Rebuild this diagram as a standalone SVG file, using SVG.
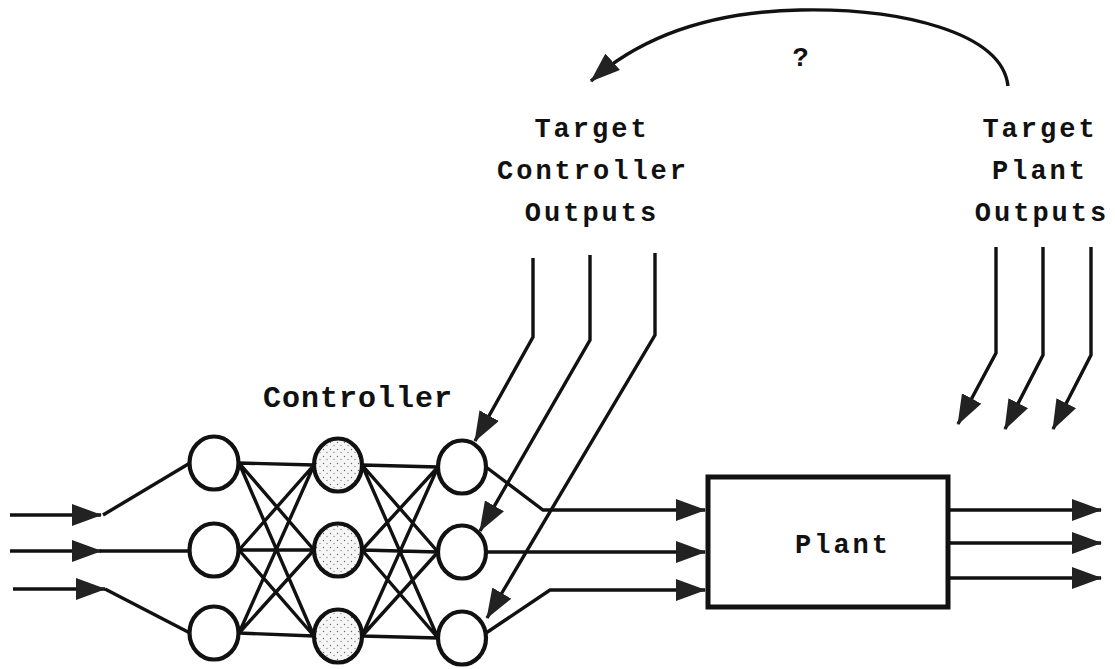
<svg xmlns="http://www.w3.org/2000/svg" width="1115" height="669" viewBox="0 0 1115 669">
  <style>
    .wire { fill: none; stroke: #111; stroke-width: 3.4; stroke-linejoin: miter; }
    .arrow { marker-end: url(#head); }
    .neuron { fill: #fff; stroke: #111; stroke-width: 4.2; }
    .hidden { fill: url(#stipple); }
    .label { font-family: "Liberation Mono", "Courier New", monospace; font-size: 27px; font-weight: bold; letter-spacing: 3px; fill: #111; text-anchor: middle; }
    .title { font-size: 30px; letter-spacing: 1px; }
    .box { fill: #fff; stroke: #111; stroke-width: 5; }
  </style>
  <defs>
    <marker id="head" markerUnits="userSpaceOnUse" viewBox="0 0 30 22" markerWidth="30" markerHeight="22" refX="29" refY="11" orient="auto">
      <path d="M0,0 L30,11 L0,22 Z" fill="#222"/>
    </marker>
    <pattern id="stipple" patternUnits="userSpaceOnUse" width="7" height="7">
      <rect width="7" height="7" fill="#f6f6f6"/>
      <circle cx="1.5" cy="1.5" r="0.7" fill="#666"/>
      <circle cx="5" cy="4.5" r="0.7" fill="#888"/>
    </pattern>
  </defs>

  <!-- connectors -->
  <g id="connectors">
    <!-- network inputs -->
    <path class="wire arrow" d="M10,515 H101"/>
    <path class="wire arrow" d="M10,551 H101"/>
    <path class="wire arrow" d="M13,589 H105"/>
    <path class="wire" d="M103,515 L190,463"/>
    <path class="wire" d="M100,551 H190"/>
    <path class="wire" d="M105,589 L190,633"/>

    <!-- input layer to hidden layer -->
    <path class="wire" d="M239,463 L314,465 M239,463 L314,550 M239,463 L314,636
                          M239,550 L314,465 M239,550 L314,550 M239,550 L314,636
                          M239,633 L314,465 M239,633 L314,550 M239,633 L314,636"/>
    <!-- hidden layer to output layer -->
    <path class="wire" d="M362,465 L438,467 M362,465 L438,552 M362,465 L438,638
                          M362,550 L438,467 M362,550 L438,552 M362,550 L438,638
                          M362,636 L438,467 M362,636 L438,552 M362,636 L438,638"/>

    <!-- controller outputs into the plant -->
    <path class="wire arrow" d="M486,467 L543,510 H705"/>
    <path class="wire arrow" d="M486,552 H705"/>
    <path class="wire arrow" d="M486,633 L550,590 H705"/>

    <!-- target controller outputs -->
    <path class="wire arrow" d="M533,258 V337 L475,441"/>
    <path class="wire arrow" d="M590,255 V340 L480,531"/>
    <path class="wire arrow" d="M655,253 V335 L487,618"/>

    <!-- plant outputs -->
    <path class="wire arrow" d="M948,510 H1101"/>
    <path class="wire arrow" d="M948,543 H1101"/>
    <path class="wire arrow" d="M948,578 H1101"/>

    <!-- target plant outputs -->
    <path class="wire arrow" d="M996,247 V353 L958,424"/>
    <path class="wire arrow" d="M1043,247 V355 L1005,429"/>
    <path class="wire arrow" d="M1091,247 V355 L1053,429"/>

    <!-- mapping from plant targets back to controller targets -->
    <path class="wire arrow" d="M1008,86 C1002,32 900,8 800,10 C700,12 635,42 591,81"/>
  </g>

  <!-- input layer -->
  <g id="input-layer">
    <ellipse class="neuron" cx="214" cy="463" rx="24.5" ry="26.5"/>
    <ellipse class="neuron" cx="214" cy="550" rx="24.5" ry="26.5"/>
    <ellipse class="neuron" cx="214" cy="633" rx="24.5" ry="26.5"/>
  </g>

  <!-- hidden layer -->
  <g id="hidden-layer">
    <ellipse class="neuron hidden" cx="338" cy="465" rx="24" ry="26.5"/>
    <ellipse class="neuron hidden" cx="338" cy="550" rx="24" ry="26.5"/>
    <ellipse class="neuron hidden" cx="338" cy="636" rx="24" ry="26.5"/>
  </g>

  <!-- output layer -->
  <g id="output-layer">
    <ellipse class="neuron" cx="462" cy="467" rx="24" ry="26.5"/>
    <ellipse class="neuron" cx="462" cy="552" rx="24" ry="26.5"/>
    <ellipse class="neuron" cx="462" cy="638" rx="24" ry="26.5"/>
  </g>

  <g id="controller-label">
    <text class="label title" x="358" y="407">Controller</text>
  </g>

  <g id="plant">
    <rect class="box" x="708" y="477" width="240" height="130"/>
    <text class="label" x="843" y="553">Plant</text>
  </g>

  <g id="target-controller-outputs">
    <text class="label" x="592" y="137">Target</text>
    <text class="label" x="593" y="179">Controller</text>
    <text class="label" x="592" y="221">Outputs</text>
  </g>

  <g id="target-plant-outputs">
    <text class="label" x="1040" y="137">Target</text>
    <text class="label" x="1040" y="179">Plant</text>
    <text class="label" x="1042" y="221">Outputs</text>
  </g>

  <g id="mapping-label">
    <text class="label" x="802" y="66">?</text>
  </g>
</svg>
